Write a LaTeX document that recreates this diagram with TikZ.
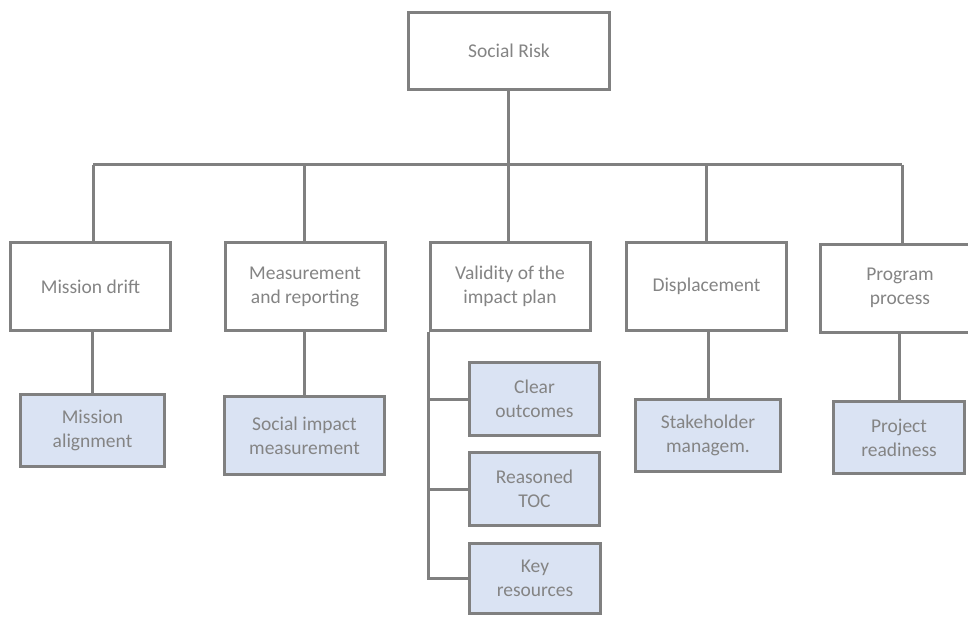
\documentclass[tikz,border=0pt]{standalone}
\usepackage{fontspec}
\setmainfont{Carlito}
\definecolor{edgegray}{RGB}{128,128,128}
\definecolor{labelgray}{RGB}{132,132,132}
\definecolor{leaffill}{RGB}{218,227,243}
\begin{document}
\begin{tikzpicture}[x=1pt,y=-1pt,
  every node/.style={font=\fontsize{19.5}{24}\selectfont, text=labelgray, align=center, inner sep=0pt},
  box/.style={draw=edgegray, line width=3pt, fill=white, minimum width=160pt, minimum height=88pt},
  leaf/.style={draw=edgegray, line width=3pt, fill=leaffill},
  link/.style={draw=edgegray, line width=3pt}]
\useasboundingbox (0,0) rectangle (968,616);
\clip (0,0) rectangle (968,616);

% root
\node[box, minimum width=201pt, minimum height=77pt] (root) at (509,51) {Social Risk};

% second level
\node[box] (drift)   at (90.5,286.5) {Mission drift};
\node[box] (meas)    at (305,286.5)  {Measurement\\and reporting};
\node[box] (valid)   at (510,286.5)  {Validity of the\\impact plan};
\node[box] (displ)   at (706.5,286.5) {Displacement};
\node[box] (prog)    at (900,288)    {Program\\process};

% third level
\node[leaf, minimum width=144pt, minimum height=72pt] (align) at (92.5,430.5) {Mission\\alignment};
\node[leaf, minimum width=160pt, minimum height=78pt] (sim)   at (304.5,435.5) {Social impact\\measurement};
\node[leaf, minimum width=145pt, minimum height=72pt] (stake) at (708,435.5) {Stakeholder\\managem.};
\node[leaf, minimum width=131pt, minimum height=72pt] (ready) at (899,437.5) {Project\\readiness};
\node[leaf, minimum width=130pt, minimum height=73pt] (clear) at (534.5,399) {Clear\\outcomes};
\node[leaf, minimum width=130pt, minimum height=73pt] (toc)   at (534.5,489) {Reasoned\\TOC};
\node[leaf, minimum width=131pt, minimum height=70pt] (keyr)  at (535,578.5) {Key\\resources};

% bus under the root
\coordinate (b1) at (93,164.5);
\coordinate (b2) at (304,164.5);
\coordinate (b3) at (508,164.5);
\coordinate (b4) at (706,164.5);
\coordinate (b5) at (902,164.5);
\draw[link] (b1) -- (b5);
\draw[link] (root.south -| b3) -- (b3);

% drops to the second level
\draw[link] (b1) -- (b1 |- drift.north);
\draw[link] (b2) -- (b2 |- meas.north);
\draw[link] (b3) -- (b3 |- valid.north);
\draw[link] (b4) -- (b4 |- displ.north);
\draw[link] (b5) -- (b5 |- prog.north);

% drops to the third level
\draw[link] (drift.south -| align.north) -- (align.north);
\draw[link] (meas.south -| sim.north) -- (sim.north);
\draw[link] (displ.south -| stake.north) -- (stake.north);
\draw[link] (prog.south -| ready.north) -- (ready.north);

% side bracket under the impact plan
\draw[link] (valid.south west) -- (valid.south west |- keyr.west) -- (keyr.west);
\draw[link] (valid.south west |- clear.west) -- (clear.west);
\draw[link] (valid.south west |- toc.west) -- (toc.west);
\end{tikzpicture}
\end{document}
